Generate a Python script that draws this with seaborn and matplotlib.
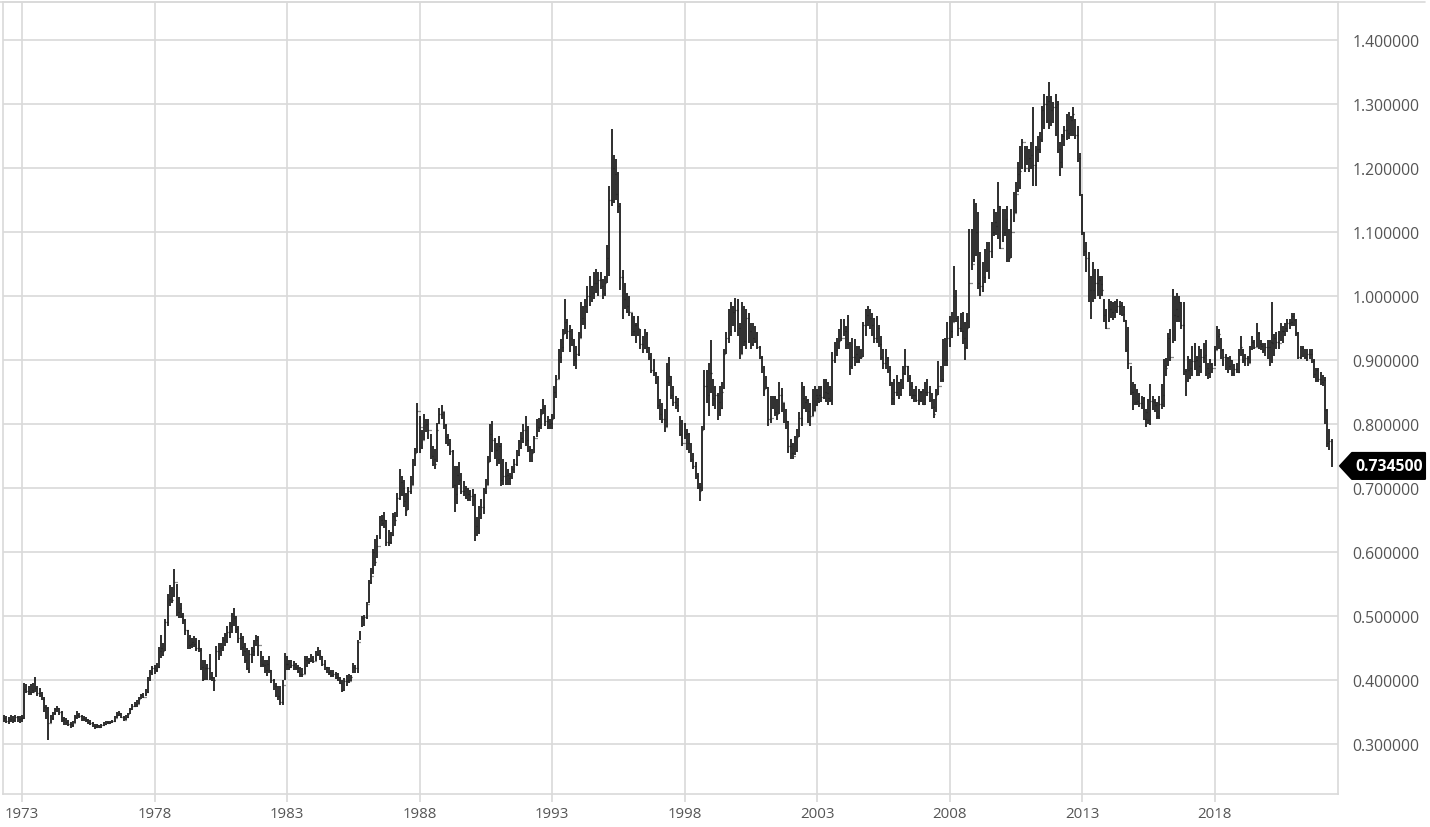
import pandas as pd
import seaborn as sns
import matplotlib.pyplot as plt
import matplotlib.dates as mdates
from matplotlib.lines import Line2D
from matplotlib.patches import Polygon
from matplotlib.ticker import FuncFormatter
from matplotlib import transforms

# monthly OHLC bars, May 1972 .. Jun 2022 (open = previous close)
low = [
    .335, .333, .332, .335, .333, .335, .334, .333,
    .334, .339, .379, .377, .376, .379, .381, .375, .373, .368, .350, .339,
    .307, .333, .337, .346, .350, .345, .335, .330, .330, .328, .325, .326,
    .333, .339, .341, .336, .336, .334, .331, .330, .326, .324, .325, .325,
    .325, .328, .330, .331, .331, .333, .335, .340, .343, .340, .336, .337,
    .341, .347, .353, .358, .358, .362, .370, .372, .375, .380, .398, .408,
    .410, .412, .418, .435, .438, .445, .485, .515, .520, .530, .500, .497,
    .497, .488, .470, .448, .448, .450, .452, .445, .444, .415, .398, .400,
    .400, .400, .398, .383, .405, .432, .437, .445, .453, .458, .465, .473,
    .484, .474, .458, .447, .437, .427, .415, .411, .427, .437, .453, .437,
    .421, .421, .411, .406, .411, .395, .385, .374, .368, .361, .361, .400,
    .416, .416, .419, .416, .416, .411, .405, .405, .410, .421, .425, .428,
    .427, .430, .437, .432, .422, .416, .411, .408, .405, .405, .402, .398,
    .393, .382, .383, .390, .395, .398, .411, .411, .411, .462, .483, .484,
    .495, .520, .550, .565, .578, .590, .620, .640, .638, .609, .609, .612,
    .625, .640, .655, .682, .687, .671, .656, .665, .690, .705, .735, .755,
    .755, .761, .775, .787, .777, .745, .735, .730, .740, .800, .808, .792,
    .768, .766, .752, .700, .662, .675, .705, .690, .688, .683, .680, .680,
    .672, .617, .625, .628, .652, .660, .690, .705, .740, .756, .745, .735,
    .738, .703, .705, .704, .704, .704, .714, .724, .735, .750, .761, .771,
    .766, .756, .740, .740, .755, .780, .787, .792, .815, .797, .792, .792,
    .792, .808, .840, .870, .896, .912, .940, .933, .912, .922, .891, .886,
    .907, .935, .954, .948, .974, .985, .990, .995, 1.005, 1.000, 1.011, .995,
    1.000, 1.020, 1.032, 1.141, 1.146, 1.150, 1.130, 1.010, .964, .980, .974, .969,
    .938, .938, .927, .938, .917, .911, .917, .911, .900, .880, .875, .862,
    .823, .807, .802, .787, .795, .860, .839, .828, .823, .818, .781, .766,
    .776, .760, .755, .740, .729, .714, .698, .680, .695, .790, .833, .812,
    .849, .828, .823, .807, .812, .823, .854, .910, .927, .938, .953, .943,
    .938, .901, .910, .922, .917, .927, .917, .922, .927, .917, .901, .880,
    .844, .854, .797, .802, .823, .812, .807, .815, .818, .802, .792, .755,
    .745, .745, .752, .757, .780, .797, .823, .818, .802, .797, .812, .820,
    .828, .833, .834, .839, .834, .829, .834, .829, .896, .907, .917, .930,
    .938, .917, .917, .876, .886, .891, .896, .896, .901, .905, .938, .953,
    .948, .938, .927, .927, .920, .900, .886, .886, .880, .860, .829, .829,
    .844, .839, .844, .855, .876, .865, .844, .839, .834, .834, .829, .834,
    .829, .830, .844, .834, .823, .810, .818, .845, .865, .865, .891, .890,
    .920, .935, .960, .960, .938, .943, .925, .900, .917, .950, 1.040, 1.053,
    1.063, 1.011, 1.000, 1.006, 1.021, 1.037, 1.026, 1.060, 1.094, 1.095, 1.089, 1.073,
    1.084, 1.094, 1.053, 1.053, 1.060, 1.115, 1.130, 1.162, 1.167, 1.198, 1.193, 1.204,
    1.193, 1.198, 1.172, 1.172, 1.209, 1.224, 1.240, 1.261, 1.271, 1.261, 1.266, 1.271,
    1.250, 1.224, 1.188, 1.200, 1.235, 1.243, 1.245, 1.250, 1.250, 1.245, 1.210, 1.157,
    1.095, 1.063, 1.037, .990, .964, .990, .995, 1.000, .995, 1.000, .959, .948,
    .959, .965, .962, .965, .974, .970, .968, .959, .912, .886, .845, .822,
    .829, .829, .826, .823, .806, .795, .800, .798, .822, .818, .808, .808,
    .823, .826, .875, .890, .898, .927, .930, .959, .960, .948, .876, .843,
    .865, .870, .875, .885, .875, .875, .880, .895, .875, .870, .872, .880,
    .891, .915, .917, .901, .891, .885, .880, .885, .875, .875, .880, .880,
    .906, .896, .891, .891, .896, .915, .917, .920, .917, .915, .911, .906,
    .901, .891, .896, .906, .917, .917, .930, .927, .938, .943, .948, .953,
    .953, .938, .901, .901, .905, .901, .899, .901, .896, .872, .866, .866,
    .861, .859, .800, .764, .760, .733,
]
high = [
    .345, .344, .342, .346, .343, .346, .344, .344,
    .346, .395, .393, .390, .394, .396, .405, .391, .387, .382, .373, .361,
    .358, .345, .350, .357, .360, .357, .351, .342, .340, .337, .334, .336,
    .345, .351, .349, .345, .344, .342, .339, .337, .334, .331, .331, .330,
    .332, .334, .336, .336, .336, .338, .343, .350, .351, .348, .343, .345,
    .349, .357, .362, .366, .368, .373, .378, .379, .386, .405, .416, .422,
    .424, .427, .452, .470, .458, .495, .535, .548, .545, .573, .550, .530,
    .520, .505, .496, .478, .470, .466, .468, .465, .462, .450, .432, .432,
    .425, .440, .412, .405, .453, .458, .458, .467, .474, .484, .490, .505,
    .513, .500, .485, .474, .468, .458, .450, .447, .452, .463, .470, .468,
    .445, .437, .432, .432, .437, .415, .402, .396, .390, .390, .400, .442,
    .437, .432, .432, .429, .427, .424, .421, .418, .437, .437, .435, .440,
    .437, .445, .452, .447, .437, .432, .421, .421, .416, .416, .413, .411,
    .405, .400, .403, .408, .410, .408, .427, .424, .463, .476, .500, .502,
    .522, .557, .575, .605, .620, .626, .656, .658, .662, .650, .635, .632,
    .661, .662, .692, .729, .718, .713, .692, .702, .718, .745, .762, .833,
    .813, .790, .815, .808, .808, .785, .766, .761, .802, .825, .830, .818,
    .800, .785, .777, .760, .735, .735, .740, .724, .711, .703, .700, .697,
    .698, .690, .655, .672, .683, .700, .714, .750, .800, .805, .778, .770,
    .781, .770, .745, .740, .730, .724, .735, .745, .760, .775, .787, .800,
    .813, .797, .766, .761, .782, .808, .810, .823, .839, .830, .813, .808,
    .815, .860, .876, .917, .933, .948, .995, .964, .954, .948, .933, .922,
    .943, .990, .985, .995, 1.016, 1.032, 1.016, 1.037, 1.042, 1.037, 1.037, 1.027,
    1.032, 1.080, 1.172, 1.261, 1.220, 1.214, 1.193, 1.146, 1.040, 1.020, 1.005, 1.000,
    .974, .969, .958, .969, .948, .938, .948, .943, .920, .911, .901, .882,
    .875, .839, .833, .823, .896, .904, .875, .860, .844, .840, .812, .807,
    .802, .792, .786, .771, .755, .740, .724, .708, .797, .885, .885, .896,
    .932, .870, .859, .849, .859, .865, .917, .943, .979, .990, .984, .997,
    .995, .958, .990, .984, .979, .974, .958, .958, .953, .943, .922, .906,
    .891, .875, .858, .844, .844, .844, .839, .865, .856, .833, .823, .805,
    .776, .771, .781, .792, .818, .865, .859, .844, .839, .833, .854, .859,
    .854, .860, .860, .870, .870, .865, .860, .912, .928, .935, .948, .964,
    .964, .953, .970, .928, .935, .933, .922, .922, .917, .960, .980, .985,
    .980, .974, .965, .969, .955, .938, .917, .917, .905, .891, .865, .870,
    .876, .865, .870, .890, .917, .891, .876, .865, .855, .860, .855, .852,
    .855, .865, .870, .860, .848, .839, .855, .898, .891, .933, .935, .959,
    .969, .975, 1.047, 1.010, .969, .974, .975, .960, .974, 1.105, 1.105, 1.152,
    1.146, 1.131, 1.068, 1.053, 1.073, 1.084, 1.084, 1.115, 1.136, 1.131, 1.178, 1.140,
    1.136, 1.136, 1.140, 1.105, 1.136, 1.162, 1.178, 1.209, 1.235, 1.245, 1.235, 1.235,
    1.230, 1.240, 1.295, 1.235, 1.250, 1.256, 1.297, 1.316, 1.313, 1.334, 1.313, 1.303,
    1.316, 1.305, 1.240, 1.253, 1.266, 1.284, 1.287, 1.282, 1.295, 1.277, 1.266, 1.224,
    1.160, 1.100, 1.084, 1.068, 1.032, 1.053, 1.042, 1.042, 1.032, 1.032, .995, .980,
    .995, .992, .990, .992, .995, .992, .990, .985, .962, .952, .890, .866,
    .863, .855, .849, .844, .842, .823, .839, .862, .844, .839, .834, .844,
    .863, .901, .903, .942, .948, 1.011, 1.000, 1.005, 1.000, .990, .990, .886,
    .906, .901, .922, .927, .906, .922, .917, .927, .932, .896, .901, .896,
    .922, .953, .948, .935, .917, .910, .905, .906, .900, .893, .896, .917,
    .938, .917, .910, .906, .922, .938, .932, .958, .943, .932, .927, .927,
    .932, .932, .990, .940, .943, .945, .958, .953, .958, .964, .964, .974,
    .974, .964, .943, .922, .922, .917, .917, .917, .917, .902, .888, .888,
    .882, .877, .873, .824, .792, .776,
]
close = [
    .341, .336, .339, .341, .337, .342, .339, .340,
    .341, .386, .383, .381, .384, .381, .388, .379, .377, .371, .358, .356,
    .333, .341, .348, .355, .356, .350, .337, .333, .334, .331, .329, .333,
    .342, .345, .343, .340, .339, .337, .334, .333, .328, .327, .329, .327,
    .330, .332, .334, .333, .334, .336, .341, .346, .348, .342, .338, .342,
    .347, .355, .360, .363, .362, .371, .376, .374, .382, .400, .412, .418,
    .416, .420, .445, .450, .445, .490, .527, .532, .525, .553, .507, .512,
    .500, .493, .478, .455, .456, .460, .457, .450, .447, .420, .402, .418,
    .418, .404, .400, .400, .445, .450, .452, .462, .470, .475, .485, .500,
    .497, .480, .465, .452, .445, .432, .418, .440, .445, .455, .462, .455,
    .425, .424, .416, .425, .415, .400, .390, .382, .375, .366, .392, .425,
    .425, .420, .424, .420, .419, .414, .410, .410, .432, .428, .429, .432,
    .430, .440, .447, .438, .425, .420, .413, .412, .408, .409, .405, .400,
    .395, .385, .398, .400, .398, .404, .420, .418, .460, .473, .497, .498,
    .518, .553, .562, .600, .585, .610, .650, .645, .650, .615, .615, .627,
    .656, .650, .685, .710, .700, .680, .665, .695, .705, .735, .755, .820,
    .795, .775, .802, .800, .790, .750, .745, .738, .790, .815, .820, .798,
    .780, .770, .758, .705, .690, .720, .712, .695, .700, .695, .690, .688,
    .690, .640, .632, .660, .670, .695, .705, .740, .785, .775, .760, .745,
    .765, .712, .718, .720, .715, .718, .730, .738, .752, .765, .778, .790,
    .775, .760, .748, .755, .778, .795, .800, .815, .825, .805, .800, .802,
    .808, .850, .870, .905, .920, .940, .960, .945, .935, .930, .900, .910,
    .935, .965, .970, .985, 1.000, 1.015, 1.005, 1.020, 1.020, 1.025, 1.015, 1.005,
    1.020, 1.060, 1.150, 1.200, 1.190, 1.160, 1.140, 1.030, .995, .990, .985, .975,
    .945, .955, .935, .950, .925, .918, .940, .920, .905, .885, .880, .866,
    .830, .815, .808, .795, .865, .875, .845, .835, .830, .825, .785, .770,
    .785, .770, .760, .745, .735, .718, .702, .695, .790, .860, .845, .880,
    .880, .840, .845, .835, .825, .850, .910, .935, .945, .960, .975, .978,
    .950, .910, .975, .930, .965, .945, .925, .935, .930, .920, .905, .885,
    .855, .858, .808, .810, .840, .818, .815, .845, .835, .820, .805, .765,
    .755, .750, .757, .780, .810, .840, .835, .838, .820, .812, .820, .845,
    .840, .845, .842, .850, .848, .840, .838, .900, .915, .925, .930, .935,
    .945, .925, .955, .890, .905, .910, .900, .905, .905, .955, .970, .965,
    .965, .955, .935, .950, .925, .905, .895, .900, .885, .865, .840, .850,
    .865, .847, .850, .880, .890, .872, .860, .845, .845, .838, .850, .840,
    .832, .850, .850, .838, .826, .815, .845, .860, .870, .880, .900, .935,
    .945, .960, 1.000, .965, .950, .945, .935, .920, .950, 1.020, 1.050, 1.105,
    1.100, 1.020, 1.015, 1.030, 1.050, 1.040, 1.070, 1.100, 1.115, 1.110, 1.140, 1.075,
    1.100, 1.120, 1.070, 1.060, 1.100, 1.130, 1.160, 1.190, 1.195, 1.240, 1.200, 1.230,
    1.215, 1.220, 1.205, 1.230, 1.230, 1.245, 1.290, 1.300, 1.305, 1.280, 1.290, 1.295,
    1.300, 1.230, 1.210, 1.250, 1.260, 1.255, 1.280, 1.275, 1.285, 1.252, 1.215, 1.160,
    1.100, 1.070, 1.060, 1.010, .990, 1.010, 1.020, 1.025, 1.018, 1.010, .970, .950,
    .980, .975, .970, .978, .984, .986, .972, .962, .915, .895, .850, .835,
    .835, .836, .833, .840, .808, .818, .806, .836, .834, .830, .812, .832,
    .845, .890, .888, .935, .905, .970, .980, .968, .990, .955, .883, .855,
    .885, .887, .898, .900, .902, .890, .905, .908, .888, .880, .893, .887,
    .915, .938, .940, .915, .905, .903, .890, .900, .880, .886, .882, .910,
    .920, .900, .903, .895, .918, .928, .920, .942, .925, .922, .915, .920,
    .920, .928, .927, .935, .928, .927, .945, .945, .950, .958, .960, .968,
    .962, .942, .905, .918, .912, .904, .910, .909, .898, .878, .884, .870,
    .865, .868, .822, .770, .774, .7345,
]
year_ticks = [1973, 1978, 1983, 1988, 1993, 1998, 2003, 2008, 2013, 2018]
price_ticks = [0.3, 0.4, 0.5, 0.6, 0.7, 0.8, 0.9, 1.0, 1.1, 1.2, 1.3, 1.4]

months = pd.date_range("1972-05-01", periods=len(close), freq="MS")
df = pd.DataFrame({"date": months, "low": low, "high": high, "close": close})
df["open"] = df["close"].shift(1).fillna(df["close"].iloc[0])

sns.set_theme(style="whitegrid")
plt.rcParams["font.family"] = ["Open Sans", "DejaVu Sans"]

W, H = 1430, 828
grid_c = "#d9d9d9"
bar_c = "#1e1e1e"
text_c = "#555555"

fig = plt.figure(figsize=(W / 100, H / 100), dpi=100)
ax = fig.add_axes([3 / W, 33 / H, 1335 / W, 792 / H])

# OHLC bars
ax.vlines(df["date"], df["low"], df["high"], color=bar_c, lw=1.3, zorder=3)
tk = pd.Timedelta(days=8)
ax.hlines(df["open"], df["date"] - tk, df["date"], color=bar_c, lw=0.9, zorder=3)
ax.hlines(df["close"], df["date"], df["date"] + tk, color=bar_c, lw=0.9, zorder=3)

ax.set_xlim(pd.Timestamp("1972-04-14"), pd.Timestamp("2022-08-28"))
ax.set_ylim(0.2219, 1.4594)

ax.set_xticks([pd.Timestamp(f"{y}-01-01") for y in year_ticks])
ax.xaxis.set_major_formatter(mdates.DateFormatter("%Y"))
ax.set_yticks(price_ticks)
ax.yaxis.set_major_formatter(FuncFormatter(lambda v, p: f"{v:.6f}"))
ax.yaxis.tick_right()

ax.grid(True, color=grid_c, lw=1.2)
ax.set_axisbelow(True)
for s in ax.spines.values():
    s.set_color(grid_c)
    s.set_linewidth(1.2)

ax.tick_params(axis="x", bottom=True, length=6, width=1.2, color=grid_c,
               pad=3, labelsize=10.8, labelcolor=text_c)
ax.tick_params(axis="y", left=False, right=False, length=0, labelleft=False,
               labelright=True, pad=10.5, labelsize=11.3, labelcolor=text_c)
ax.set_xlabel("")
ax.set_ylabel("")

# top frame line running over the label area
fig.add_artist(Line2D([0, 1425 / W], [1 - 3 / H, 1 - 3 / H],
                      transform=fig.transFigure, color=grid_c, lw=1.2))

# last value tag
last = close[-1]
tr = transforms.blended_transform_factory(fig.transFigure, ax.transData)
hh = 13 / 640
tag = Polygon([(1340 / W, last), (1352 / W, last + hh), (1425 / W, last + hh),
               (1425 / W, last - hh), (1352 / W, last - hh)],
              closed=True, transform=tr, facecolor="black", edgecolor="black",
              joinstyle="round", lw=1.5, clip_on=False, zorder=5)
fig.add_artist(tag)
fig.text(1389 / W, last, f"{last:.6f}", transform=tr, color="white",
         fontsize=11.3, fontweight="bold", ha="center", va="center", zorder=6)

fig.savefig("out.png", dpi=100)
